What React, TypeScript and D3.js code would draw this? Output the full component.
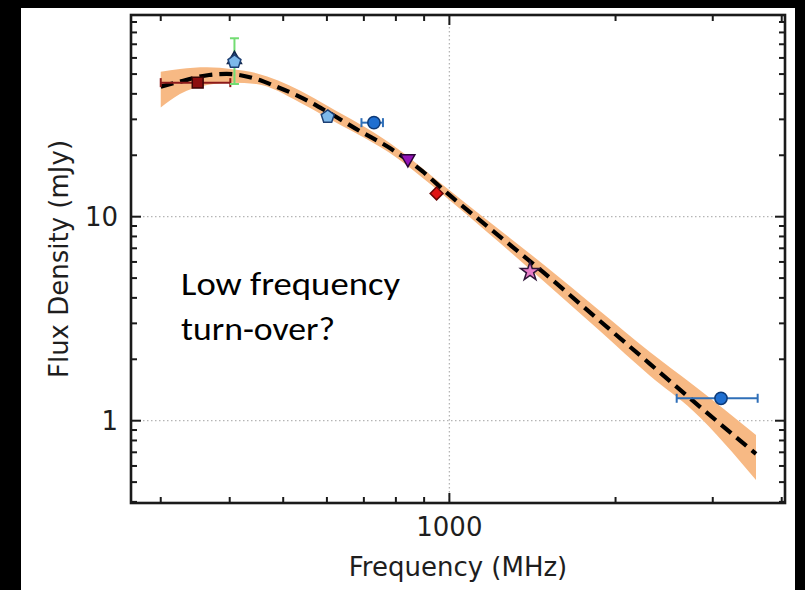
import React from 'react';
import * as d3 from 'd3';

// ---- data ----
const modelFreq = [300, 325, 367, 395, 447, 486, 536, 602, 688, 780, 892, 990, 1170, 1477, 1874, 2308, 2844, 3593];
const modelFlux = [43.4, 45.9, 49.5, 50.1, 47.3, 43.4, 38.7, 32.6, 26.3, 21.7, 16.75, 13.07, 9.0, 5.36, 3.08, 1.9, 1.17, 0.687];

const bandFreq = [300, 325, 364, 405, 447, 536, 602, 780, 990, 1170, 1477, 1874, 2308, 2762, 3593];
const bandHigh = [51.4, 53.0, 54.0, 52.8, 50.5, 41.6, 34.9, 23.0, 13.8, 9.63, 5.86, 3.45, 2.17, 1.5, 0.851];
const bandLow = [34.3, 39.9, 44.2, 45.4, 44.7, 36.3, 30.5, 20.5, 12.35, 8.41, 4.87, 2.75, 1.66, 1.12, 0.512];

const pointShape = ['square', 'triangle', 'pentagon', 'pentagon', 'circle', 'triangleDown', 'diamond', 'star', 'circle'];
const pointFreq = [350, 408, 408, 602, 730, 841, 948, 1400, 3105];
const pointFlux = [45.4, 59.0, 57.5, 30.9, 28.9, 19.2, 13.0, 5.38, 1.288];
const pointFreqLo = [300, null, null, null, 693, null, null, null, 2581];
const pointFreqHi = [401, null, null, null, 758, null, null, null, 3618];
const pointFluxLo = [null, null, 44.7, null, null, null, null, null, null];
const pointFluxHi = [null, null, 74.9, null, null, null, null, null, null];
const pointFill = ['#8c0f0f', '#284d80', '#7db8ea', '#7db8ea', '#1f6fd1', '#9414b8', '#e01414', '#e77cc8', '#1f6fd1'];
const pointEdge = ['#3a0505', '#10254a', '#1d3f73', '#1d3f73', '#0d3a78', '#2a0636', '#6a0505', '#2e1538', '#0d3a78'];
const errColor = ['#8c1a1a', null, '#72dc72', null, '#2f6fb8', null, null, null, '#2f6fb8'];

const xMajor = [1000];
const xMinor = [300, 400, 500, 600, 700, 800, 900, 2000, 3000, 4000];
const yMajor = [1, 10];
const yMinor = [0.4, 0.5, 0.6, 0.7, 0.8, 0.9, 2, 3, 4, 5, 6, 7, 8, 9, 20, 30, 40, 50, 60, 70, 80, 90];
const xTickLabels = ['1000'];
const yTickLabels = ['1', '10'];

const xLabel = 'Frequency (MHz)';
const yLabel = 'Flux Density (mJy)';
const noteLines = ['Low frequency', 'turn-over?'];
const noteWidths = [219, 154];

function pentagonPath(r: number) {
  const pts = d3.range(5).map((k) => {
    const a = (-90 + k * 72) * Math.PI / 180;
    return [r * Math.cos(a), r * Math.sin(a)];
  });
  return 'M' + pts.map((p) => p.join(',')).join('L') + 'Z';
}

function markerPath(shape: string) {
  switch (shape) {
    case 'square': return d3.symbol(d3.symbolSquare, 118)()!;
    case 'triangle': return d3.symbol(d3.symbolTriangle, 85)()!;
    case 'triangleDown': return d3.symbol(d3.symbolTriangle, 85)()!;
    case 'circle': return d3.symbol(d3.symbolCircle, 118)()!;
    case 'diamond': return d3.symbol(d3.symbolSquare, 82)()!;
    case 'star': return d3.symbol(d3.symbolStar, 110)()!;
    default: return pentagonPath(6.8);
  }
}

function markerRotate(shape: string) {
  if (shape === 'triangleDown') return ' rotate(180)';
  if (shape === 'diamond') return ' rotate(45)';
  return '';
}

export default function App() {
  const W = 805, H = 590;
  const left = 131, right = 785, top = 15, bottom = 503;
  const x = d3.scaleLog().domain([265, 4055]).range([left, right]);
  const y = d3.scaleLog().domain([0.395, 97.4]).range([bottom, top]);

  const band = d3.area<number>()
    .x((i) => x(bandFreq[i]))
    .y0((i) => y(bandLow[i]))
    .y1((i) => y(bandHigh[i]))
    .curve(d3.curveMonotoneX)(d3.range(bandFreq.length))!;
  const line = d3.line<number>()
    .x((i) => x(modelFreq[i]))
    .y((i) => y(modelFlux[i]))
    .curve(d3.curveMonotoneX)(d3.range(modelFreq.length))!;

  const majLen = 10, minLen = 6;
  const axisFont = '"DejaVu Sans", sans-serif';
  const txt = '#1e1e1e';

  return (
    <svg width={W} height={H} style={{ position: 'absolute', left: 0, top: 0, display: 'block' }}>
      <rect x={0} y={0} width={W} height={H} fill="#000" />
      <rect x={21} y={8} width={774} height={H - 8} fill="#fff" />
      {/* grid */}
      <g stroke="#b5b5b5" strokeWidth={1.3} strokeDasharray="1.5 2.5">
        {xMajor.map((v) => <line key={'gx' + v} x1={x(v)} x2={x(v)} y1={top} y2={bottom} />)}
        {yMajor.map((v) => <line key={'gy' + v} x1={left} x2={right} y1={y(v)} y2={y(v)} />)}
      </g>
      {/* uncertainty band */}
      <path d={band} fill="#f7b984" stroke="none" />
      {/* model */}
      <path d={line} fill="none" stroke="#000" strokeWidth={4.2} strokeDasharray="13 7" />
      {/* error bars */}
      {pointFreq.map((f, i) => {
        const c = errColor[i];
        if (!c) return null;
        const els: any[] = [];
        const py = y(pointFlux[i]);
        const px = x(f);
        if (pointFreqLo[i] != null) {
          const a = x(pointFreqLo[i] as number), b = x(pointFreqHi[i] as number);
          els.push(<line key="h" x1={a} x2={b} y1={py} y2={py} stroke={c} strokeWidth={2} />);
          els.push(<line key="ha" x1={a} x2={a} y1={py - 4.5} y2={py + 4.5} stroke={c} strokeWidth={2} />);
          els.push(<line key="hb" x1={b} x2={b} y1={py - 4.5} y2={py + 4.5} stroke={c} strokeWidth={2} />);
        }
        if (pointFluxLo[i] != null) {
          const a = y(pointFluxLo[i] as number), b = y(pointFluxHi[i] as number);
          els.push(<line key="v" x1={px} x2={px} y1={a} y2={b} stroke={c} strokeWidth={2} />);
          els.push(<line key="va" x1={px - 4.5} x2={px + 4.5} y1={a} y2={a} stroke={c} strokeWidth={2} />);
          els.push(<line key="vb" x1={px - 4.5} x2={px + 4.5} y1={b} y2={b} stroke={c} strokeWidth={2} />);
        }
        return <g key={'e' + i}>{els}</g>;
      })}
      {/* markers */}
      {pointFreq.map((f, i) => (
        <path
          key={'m' + i}
          d={markerPath(pointShape[i])}
          transform={`translate(${x(f)},${y(pointFlux[i])})${markerRotate(pointShape[i])}`}
          fill={pointFill[i]}
          stroke={pointEdge[i]}
          strokeWidth={1.5}
        />
      ))}
      {/* frame */}
      <rect x={left} y={top} width={right - left} height={bottom - top} fill="none" stroke="#1a1a1a" strokeWidth={2.6} />
      {/* ticks */}
      <g stroke="#1a1a1a" strokeWidth={2}>
        {xMajor.map((v) => (
          <g key={'xt' + v}>
            <line x1={x(v)} x2={x(v)} y1={bottom} y2={bottom - majLen} />
            <line x1={x(v)} x2={x(v)} y1={top} y2={top + majLen} />
          </g>
        ))}
        {xMinor.map((v) => (
          <g key={'xm' + v}>
            <line x1={x(v)} x2={x(v)} y1={bottom} y2={bottom - minLen} />
            <line x1={x(v)} x2={x(v)} y1={top} y2={top + minLen} />
          </g>
        ))}
        {yMajor.map((v) => (
          <g key={'yt' + v}>
            <line x1={left} x2={left + majLen} y1={y(v)} y2={y(v)} />
            <line x1={right} x2={right - majLen} y1={y(v)} y2={y(v)} />
          </g>
        ))}
        {yMinor.map((v) => (
          <g key={'ym' + v}>
            <line x1={left} x2={left + minLen} y1={y(v)} y2={y(v)} />
            <line x1={right} x2={right - minLen} y1={y(v)} y2={y(v)} />
          </g>
        ))}
      </g>
      {/* tick labels */}
      <g fontFamily={axisFont} fontSize={26} fill={txt}>
        {xMajor.map((v, i) => (
          <text key={'xl' + v} x={x(v)} y={536} textAnchor="middle">{xTickLabels[i]}</text>
        ))}
        {yMajor.map((v, i) => (
          <text key={'yl' + v} x={118} y={y(v)} dy="0.36em" textAnchor="end">{yTickLabels[i]}</text>
        ))}
        <text x={(left + right) / 2} y={576} textAnchor="middle">{xLabel}</text>
        <text transform={`translate(68,${(top + bottom) / 2}) rotate(-90)`} textAnchor="middle">{yLabel}</text>
      </g>
      {/* annotation */}
      <g fontFamily='Carlito, Calibri, Lato, "Open Sans", sans-serif' fontSize={32} fill="#000">
        {noteLines.map((t, i) => (
          <text key={t} x={181} y={295 + i * 45} textLength={noteWidths[i]} lengthAdjust="spacingAndGlyphs">{t}</text>
        ))}
      </g>
    </svg>
  );
}
